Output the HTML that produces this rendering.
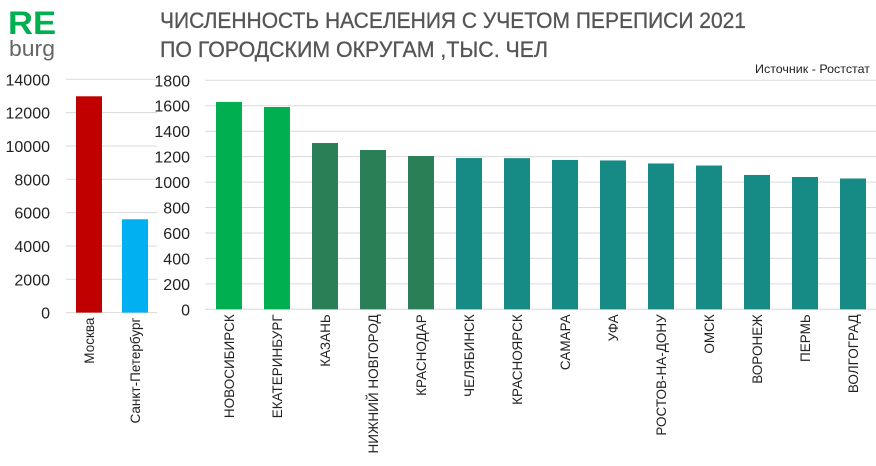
<!DOCTYPE html>
<html><head><meta charset="utf-8"><style>
html,body{margin:0;padding:0;background:#fff;}
svg{display:block;font-family:"Liberation Sans",sans-serif;}
</style></head><body>
<svg id="c" width="876" height="466">
<text x="8" y="34" font-size="32" font-weight="bold" fill="#00b050" textLength="48" lengthAdjust="spacingAndGlyphs">RE</text>
<text x="9" y="56" font-size="22" fill="#666" textLength="46" lengthAdjust="spacingAndGlyphs">burg</text>
<text x="160" y="28" font-size="22" fill="#555" stroke="#555" stroke-width="0.3" textLength="586" lengthAdjust="spacingAndGlyphs">ЧИСЛЕННОСТЬ НАСЕЛЕНИЯ С УЧЕТОМ ПЕРЕПИСИ 2021</text>
<text x="160" y="57" font-size="22" fill="#555" stroke="#555" stroke-width="0.3" textLength="388" lengthAdjust="spacingAndGlyphs">ПО ГОРОДСКИМ ОКРУГАМ ,ТЫС. ЧЕЛ</text>
<text x="870" y="73" font-size="12" fill="#222" text-anchor="end" textLength="115" lengthAdjust="spacingAndGlyphs">Источник - Ростстат</text>
<g id="left"></g><g id="right"></g>
</svg>
<script>
const leftCats=["Москва","Санкт-Петербург"];
const leftVals=[12980,5600];
const leftColors=["#c00000","#00b0f0"];
const leftTicks=[0,2000,4000,6000,8000,10000,12000,14000];
const rightCats=["НОВОСИБИРСК","ЕКАТЕРИНБУРГ","КАЗАНЬ","НИЖНИЙ НОВГОРОД","КРАСНОДАР","ЧЕЛЯБИНСК","КРАСНОЯРСК","САМАРА","УФА","РОСТОВ-НА-ДОНУ","ОМСК","ВОРОНЕЖ","ПЕРМЬ","ВОЛГОГРАД"];
const rightVals=[1630,1590,1307,1252,1205,1189,1188,1174,1170,1146,1130,1056,1040,1028];
const rightColors=["#00b050","#00b050","#2a7f57","#2a7f57","#2a7f57","#168a85","#168a85","#168a85","#168a85","#168a85","#168a85","#168a85","#168a85","#168a85"];
const rightTicks=[0,200,400,600,800,1000,1200,1400,1600,1800];
const NS="http://www.w3.org/2000/svg";
function mk(p,t,a){const e=document.createElementNS(NS,t);for(const k in a)e.setAttribute(k,a[k]);p.appendChild(e);return e;}
function draw(g,cats,vals,colors,ticks,o){
  const y=v=>o.y0-(v/o.max)*(o.y0-o.yTop);
  const x=i=>o.x0+o.band*i+(o.band-o.bw)/2;
  ticks.forEach(t=>{
    const l=mk(g,'line',{x1:o.x0,x2:o.x1,y1:y(t),y2:y(t),stroke:'#d9d9d9','stroke-width':1});
    
    
    const tx=mk(g,'text',{x:o.lx,y:y(t)+6,'font-size':16,fill:'#222','text-anchor':'end'});
    tx.textContent=t;
    
    
  });
  vals.forEach((v,i)=>{
    const r=mk(g,'rect',{x:x(i),y:y(v),width:o.bw,height:o.y0-y(v),fill:colors[i]});
    
    
    const cx=x(i)+o.bw/2+5;
    const tx=mk(g,'text',{x:0,y:0,'font-size':13.5,fill:'#222','text-anchor':'end',transform:`translate(${cx},${o.y0+5}) rotate(-90)`});
    tx.textContent=cats[i];
    
    
  });
}
draw(document.getElementById('left'),leftCats,leftVals,leftColors,leftTicks,{x0:66,x1:157,y0:312.6,yTop:79.3,max:14000,band:46,bw:26,lx:50});
draw(document.getElementById('right'),rightCats,rightVals,rightColors,rightTicks,{x0:205,x1:876,y0:309.3,yTop:80.3,max:1800,band:48,bw:26,lx:190});
</script>
</body></html>
